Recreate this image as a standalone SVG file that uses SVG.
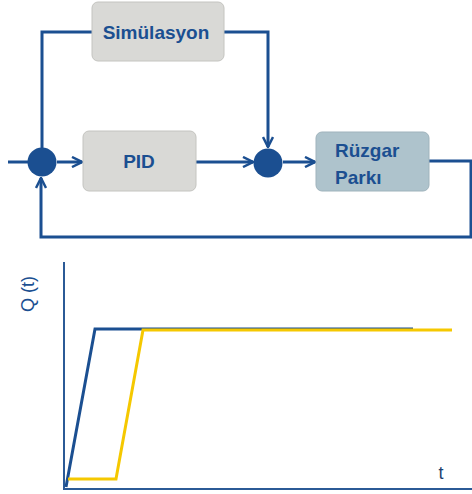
<svg xmlns="http://www.w3.org/2000/svg" width="472" height="494" viewBox="0 0 472 494">
<style>
.ln{fill:none;stroke:#1b4f91;stroke-width:3;stroke-linejoin:miter}
.box{fill:#d9d9d6;stroke:#c4c4c0;stroke-width:1}
.lbl{font-family:"Liberation Sans",Arial,sans-serif;font-weight:bold;font-size:19px;fill:#1b4f91}
.sum{fill:#1b4f91}
</style>
<defs>
<marker id="ah" viewBox="0 0 12 12" refX="11" refY="6" markerWidth="12" markerHeight="12" markerUnits="userSpaceOnUse" orient="auto">
<path d="M1,1 L11,6 L1,11" fill="none" stroke="#1b4f91" stroke-width="2.5"/>
</marker>
</defs>
<g id="connectors">
<path class="ln" d="M8,162 H28"/>
<path class="ln" d="M57,162 H82" marker-end="url(#ah)"/>
<path class="ln" d="M196,162 H253" marker-end="url(#ah)"/>
<path class="ln" d="M283,162 H315" marker-end="url(#ah)"/>
<path class="ln" d="M42,148 V32 H92"/>
<path class="ln" d="M224,32 H268 V147" marker-end="url(#ah)"/>
<path class="ln" d="M429,161 H471 V237 H41 V178" marker-end="url(#ah)"/>
</g>
<g id="simulasyon">
<rect class="box" x="92" y="2" width="132" height="59" rx="6"/>
<text class="lbl" x="156" y="39" text-anchor="middle">Simülasyon</text>
</g>
<g id="pid">
<rect class="box" x="83" y="131" width="113" height="60" rx="6"/>
<text class="lbl" x="139" y="168" text-anchor="middle">PID</text>
</g>
<g id="ruzgar">
<rect x="316" y="132" width="113" height="59" rx="6" fill="#aec3cc" stroke="#9fb3bc" stroke-width="1"/>
<text class="lbl" x="335" y="157">Rüzgar</text>
<text class="lbl" x="335" y="184">Parkı</text>
</g>
<g id="sum1"><circle class="sum" cx="42" cy="162" r="14.5"/></g>
<g id="sum2"><circle class="sum" cx="268" cy="163" r="14.5"/></g>
<g id="chart">
<path d="M64,262 V489 H472" fill="none" stroke="#2b5a96" stroke-width="2"/>
<path d="M66,487 L95,329 H413" fill="none" stroke="#1b4f91" stroke-width="3"/>
<path d="M68,479 H116 L143,330 H452" fill="none" stroke="#f5c800" stroke-width="3"/>
<text x="34" y="294" transform="rotate(-90 34 294)" text-anchor="middle" font-family="Liberation Sans,Arial,sans-serif" font-size="18" fill="#1b4f91">Q (t)</text>
<text x="441" y="479" text-anchor="middle" font-family="Liberation Sans,Arial,sans-serif" font-size="18" fill="#1b3f6f">t</text>
</g>
</svg>
